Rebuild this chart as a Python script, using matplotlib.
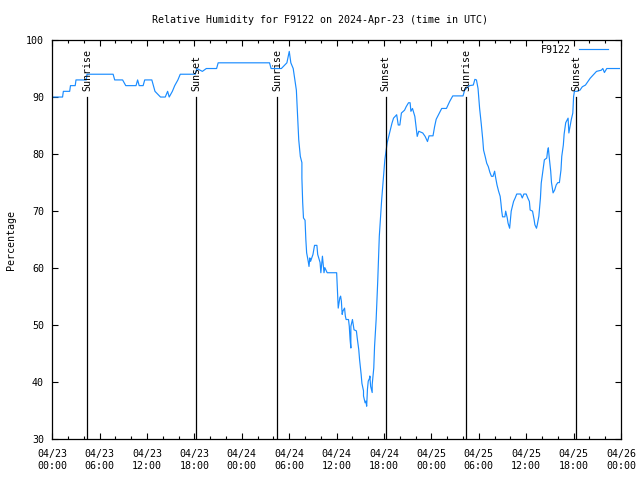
import matplotlib
matplotlib.use("Agg")
import matplotlib.pyplot as plt
from matplotlib.ticker import MultipleLocator

# hours since 2024-04-23 00:00 UTC
hours = [
    0.0, 1.3, 1.4, 2.2, 2.3, 2.9, 3.0, 4.3, 4.4, 7.7,
    7.9, 8.9, 9.3, 10.6, 10.8, 11.0, 11.5, 11.7, 12.6, 12.8,
    13.0, 13.7, 14.3, 14.6, 14.8, 15.2, 15.5, 15.9, 16.2, 18.1,
    18.3, 19.0, 19.5, 20.8, 21.0, 27.5, 27.7, 29.0, 29.7, 30.0,
    30.2, 30.5, 30.9, 31.2, 31.4, 31.6, 31.6, 31.7, 31.8, 32.0,
    32.1, 32.2, 32.4, 32.5, 32.6, 32.7, 33.0, 33.2, 33.5, 33.6,
    33.9, 34.0, 34.2, 34.4, 34.5, 34.8, 36.0, 36.1, 36.2, 36.4,
    36.5, 36.6, 36.7, 36.8, 37.0, 37.1, 37.2, 37.5, 37.6, 37.7,
    37.8, 37.8, 38.0, 38.1, 38.2, 38.5, 38.6, 38.8, 38.9, 39.1,
    39.2, 39.4, 39.4, 39.6, 39.7, 39.8, 39.9, 40.0, 40.2, 40.2,
    40.3, 40.5, 40.5, 40.7, 40.8, 41.0, 41.1, 41.2, 41.4, 41.6,
    41.7, 42.1, 42.3, 42.4, 42.7, 43.0, 43.2, 43.6, 43.8, 44.0,
    44.2, 44.6, 44.8, 45.1, 45.3, 45.4, 45.6, 45.9, 46.1, 46.2,
    46.4, 46.9, 47.2, 47.5, 47.7, 48.2, 48.4, 48.6, 49.0, 49.3,
    49.9, 50.3, 50.7, 52.0, 52.2, 52.8, 53.3, 53.5, 53.7, 53.9,
    54.1, 54.3, 54.5, 54.6, 54.8, 55.0, 55.2, 55.4, 55.6, 55.8,
    56.0, 56.1, 56.3, 56.5, 56.7, 56.8, 56.9, 57.0, 57.3, 57.4,
    57.6, 57.7, 57.9, 58.0, 58.1, 58.3, 58.4, 58.6, 58.8, 59.3,
    59.5, 59.7, 60.0, 60.2, 60.4, 60.5, 60.8, 61.0, 61.1, 61.3,
    61.4, 61.6, 61.8, 61.9, 62.1, 62.3, 62.6, 62.7, 62.8, 62.9,
    63.1, 63.2, 63.4, 63.6, 63.8, 64.0, 64.2, 64.4, 64.5, 64.7,
    64.8, 65.0, 65.3, 65.4, 65.7, 65.9, 66.0, 66.1, 66.4, 66.8,
    67.1, 67.5, 67.8, 68.1, 68.5, 68.9, 69.5, 69.7, 69.9, 70.2,
    71.8,
]
humidity = [
    90, 90, 91, 91, 92, 92, 93, 93, 94, 94,
    93, 93, 92, 92, 93, 92, 92, 93, 93, 92,
    91, 90, 90, 91, 90, 91, 92, 93, 94, 94,
    95, 94.5, 95, 95, 96, 96, 95, 95, 96, 98,
    96, 95, 91.2, 82.5, 79.6, 78.5, 75.8, 71.5, 68.8, 68.4,
    65, 62.7, 61.2, 60.3, 61.8, 61.2, 62.4, 64, 64, 62.4,
    61, 59.2, 62.1, 59.2, 60.1, 59.2, 59.2, 56, 53, 54.8,
    55.1, 54.2, 51.9, 52.5, 53, 51.6, 51, 51, 49.8, 47.5,
    46, 49.8, 51, 50.1, 49.2, 49, 47.8, 45.7, 44, 41.4,
    39.8, 38.5, 37.6, 36.4, 36.7, 35.8, 38.8, 40.2, 40.8, 41.1,
    39.3, 38.2, 39.6, 42.5, 46.3, 51, 54.5, 57.7, 65.6, 69.7,
    72, 79, 81, 82, 83.7, 85.4, 86.3, 86.9, 85.1, 85.1,
    87.2, 87.7, 88.3, 89, 89, 87.5, 88, 86.6, 84.2, 83.1,
    84, 83.7, 83.1, 82.2, 83.2, 83.2, 84.8, 86.1, 87.2, 88,
    88, 89.2, 90.2, 90.2, 91.2, 92, 92.1, 93.1, 93, 91.5,
    88, 85.4, 82.5, 80.7, 79.6, 78.4, 77.8, 76.8, 76.1, 76.1,
    77, 76.1, 74.6, 73.5, 72.6, 71.4, 70, 69, 69, 70,
    68.8, 67.9, 67, 68.5, 70, 71.1, 71.7, 72.3, 73, 73,
    72.3, 73, 73, 72.3, 71.7, 70.2, 70, 68.5, 67.6, 67,
    67.6, 69.1, 72.3, 74.9, 77, 79, 79.3, 80.5, 81.1, 79.6,
    77, 75, 73.2, 73.7, 74.6, 75, 75, 77.2, 79.6, 81.6,
    83.5, 85.5, 86.3, 83.7, 86, 87.2, 90.1, 91, 91, 91.2,
    91.8, 92.1, 92.7, 93.3, 93.9, 94.5, 94.7, 95, 94.3, 95,
    95,
]

sun_times = [4.43, 18.2, 28.45, 42.2, 52.4, 66.3]
sun_labels = ["Sunrise", "Sunset", "Sunrise", "Sunset", "Sunrise", "Sunset"]

tick_hours = [0, 6, 12, 18, 24, 30, 36, 42, 48, 54, 60, 66, 72]
tick_labels = [
    "04/23\n00:00", "04/23\n06:00", "04/23\n12:00", "04/23\n18:00",
    "04/24\n00:00", "04/24\n06:00", "04/24\n12:00", "04/24\n18:00",
    "04/25\n00:00", "04/25\n06:00", "04/25\n12:00", "04/25\n18:00",
    "04/26\n00:00",
]

plt.rcParams["font.family"] = ["DejaVu Sans Mono"]
plt.rcParams["font.size"] = 7.2

fig = plt.figure(figsize=(6.4, 4.8), dpi=100)
ax = fig.add_axes([52.3 / 640, 40.7 / 480, 568.7 / 640, 399.3 / 480])

ax.plot(hours, humidity, color="#1a8cff", linewidth=0.85, label="F9122")

# sunrise / sunset markers
for t, lab in zip(sun_times, sun_labels):
    ax.plot([t, t], [30, 90], color="black", linewidth=0.9)
    ax.text(t, 91, lab, rotation=90, ha="center", va="bottom", fontsize=7.2)

ax.set_xlim(0, 72)
ax.set_ylim(30, 100)
ax.set_xticks(tick_hours)
ax.set_xticklabels(tick_labels)
ax.xaxis.set_minor_locator(MultipleLocator(2))
ax.set_yticks(range(30, 101, 10))

ax.tick_params(which="both", direction="in", top=True, right=True, width=0.8)
ax.tick_params(which="major", length=4.5)
ax.tick_params(which="minor", length=2.5)
ax.tick_params(axis="x", which="major", pad=7)
ax.tick_params(axis="y", which="major", pad=6)
for spine in ax.spines.values():
    spine.set_linewidth(0.9)

fig.text(11 / 640, 0.5, "Percentage", rotation=90, ha="center", va="center")
fig.text(0.5, 1 - 20 / 480, "Relative Humidity for F9122 on 2024-Apr-23 (time in UTC)",
         ha="center", va="center")

ax.legend(loc="upper right", bbox_to_anchor=(1 - 7 / 568.7, 1 + 1 / 399.3),
          frameon=False, markerfirst=False, handlelength=2.9,
          handletextpad=0.8, borderaxespad=0.2)

fig.savefig("out.png", dpi=100)
